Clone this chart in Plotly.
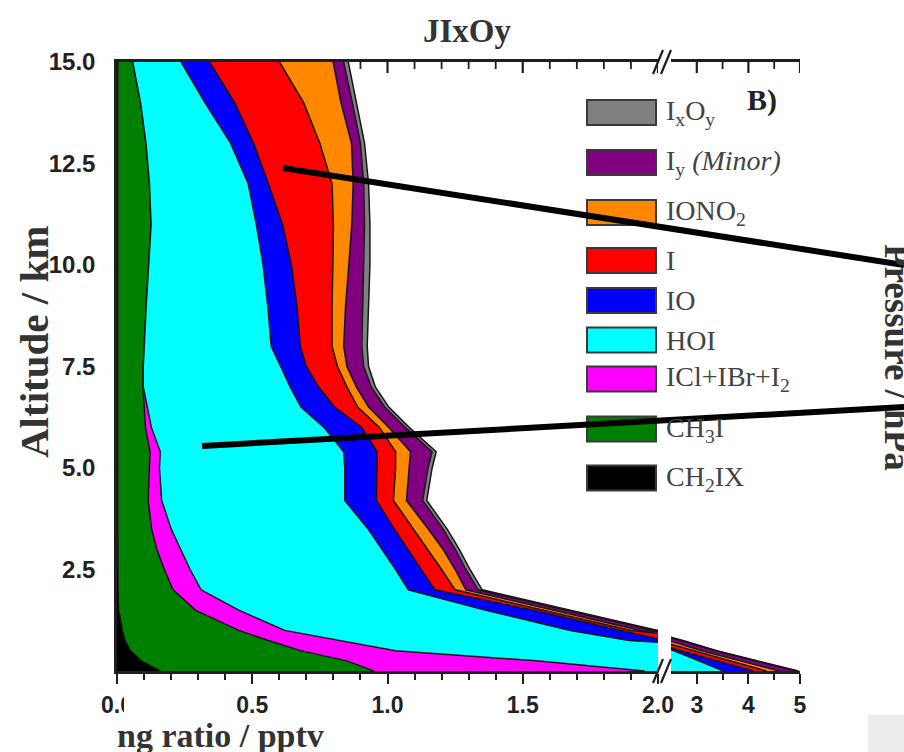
import plotly.graph_objects as go

# Altitude levels of the profile (km)
altitude_km = [0.0, 0.25, 0.5, 0.75, 1.0, 1.5, 2.0, 2.5, 3.0, 3.5, 4.2, 5.0, 5.4,
               6.0, 6.5, 7.0, 7.5, 8.0, 9.0, 10.0, 11.0, 12.0, 13.0, 14.0, 15.0]

# Mixing ratio of each iodine species (pptv), stacked from the left
ch2ix = [0.16, 0.09, 0.05, 0.03, 0.02, 0.006, 0.004, 0.003, 0.003, 0.003, 0.003, 0.003, 0.003,
         0.003, 0.003, 0.003, 0.003, 0.003, 0.003, 0.003, 0.003, 0.003, 0.003, 0.003, 0.003]
ch3i = [0.79, 0.76, 0.63, 0.53, 0.43, 0.284, 0.203, 0.172, 0.144, 0.125, 0.112, 0.117, 0.119,
        0.102, 0.097, 0.093, 0.094, 0.097, 0.105, 0.114, 0.123, 0.117, 0.104, 0.084, 0.055]
icl_ibr_i2 = [1.00, 0.70, 0.35, 0.26, 0.17, 0.16, 0.104, 0.095, 0.088, 0.072, 0.05, 0.037, 0.038,
              0.022, 0.012, 0.001, 0.0, 0.0, 0.0, 0.0, 0.0, 0.0, 0.0, 0.0, 0.0]
hoi = [1.57, 1.49, 1.53, 1.074, 1.056, 0.91, 0.766, 0.76, 0.745, 0.728, 0.677, 0.685, 0.678,
       0.638, 0.568, 0.543, 0.508, 0.47, 0.449, 0.423, 0.389, 0.365, 0.313, 0.238, 0.179]
io = [0.58, 0.35, 0.13, 0.136, 0.187, 0.178, 0.098, 0.095, 0.095, 0.097, 0.117, 0.12, 0.124,
      0.14, 0.125, 0.105, 0.095, 0.108, 0.108, 0.105, 0.097, 0.075, 0.085, 0.11, 0.105]
i_atom = [0.25, 0.26, 0.21, 0.22, 0.037, 0.042, 0.075, 0.075, 0.073, 0.068, 0.063, 0.068, 0.068,
          0.065, 0.085, 0.105, 0.115, 0.117, 0.13, 0.153, 0.188, 0.235, 0.245, 0.255, 0.259]
iono2 = [0.25, 0.20, 0.20, 0.20, 0.035, 0.03, 0.04, 0.05, 0.057, 0.057, 0.048, 0.05, 0.055,
         0.035, 0.04, 0.035, 0.035, 0.043, 0.05, 0.059, 0.068, 0.078, 0.117, 0.138, 0.198]
iy_minor = [0.32, 0.30, 0.26, 0.25, 0.05, 0.045, 0.045, 0.04, 0.045, 0.055, 0.06, 0.07, 0.08,
            0.06, 0.06, 0.055, 0.062, 0.067, 0.063, 0.056, 0.047, 0.039, 0.033, 0.042, 0.039]
ixoy = [0.05, 0.05, 0.03, 0.03, 0.015, 0.015, 0.015, 0.015, 0.015, 0.015, 0.015, 0.015, 0.015,
        0.015, 0.015, 0.015, 0.018, 0.02, 0.022, 0.022, 0.02, 0.018, 0.015, 0.015, 0.017]

species_values = [ch2ix, ch3i, icl_ibr_i2, hoi, io, i_atom, iono2, iy_minor, ixoy]
species_names = ["CH<sub>2</sub>IX", "CH<sub>3</sub>I", "ICl+IBr+I<sub>2</sub>", "HOI", "IO", "I",
                 "IONO<sub>2</sub>", "I<sub>y</sub> <i>(Minor)</i>", "I<sub>x</sub>O<sub>y</sub>"]
species_colors = ["#000000", "#008000", "#ff00ff", "#00ffff", "#0000ff", "#ff0000",
                  "#ff8800", "#800080", "#808080"]

# Broken mixing-ratio axis: low segment and high segment
low_ticks = [0.0, 0.5, 1.0, 1.5, 2.0]
high_ticks = [3, 4, 5]
high_minor = [3.5, 4.5]
alt_ticks = [2.5, 5.0, 7.5, 10.0, 12.5, 15.0]

# Pressure levels on the right axis and their altitudes (km)
pressure_hpa = [120, 200, 300, 400, 500, 600, 700, 800, 900]
pressure_alt_km = [14.65, 11.44, 8.61, 6.70, 4.99, 3.68, 2.58, 1.63, 0.76]

W, H = 904, 752
ML, MR, MT, MB = 117, 104, 62, 81
PW, PH = W - ML - MR, H - MT - MB
ALT_TOP = 15.0


def px(x):
    return (x - ML) / PW


def py(y):
    return (H - MB - y) / PH


# cumulative stack boundaries
stacks = []
running = [0.0] * len(altitude_km)
for vals in species_values:
    running = [a + b for a, b in zip(running, vals)]
    stacks.append(running)

fig = go.Figure()
for xa in ["x", "x2"]:
    for k, (edge, col) in enumerate(zip(stacks, species_colors)):
        fig.add_trace(go.Scatter(
            x=edge, y=altitude_km, xaxis=xa, yaxis="y", mode="lines",
            line=dict(color="#151515", width=1.5),
            fill="tozerox" if k == 0 else "tonextx", fillcolor=col,
            showlegend=False, hoverinfo="skip"))

axis_col = "#1e1e1e"
sans = "Liberation Sans, Arial, sans-serif"
serif = "Liberation Serif, Times New Roman, serif"
tick_font = dict(family=sans, size=23, color="#222", weight="bold")
common_x = dict(showline=True, mirror=True, linewidth=2.5, linecolor=axis_col, showgrid=False,
                zeroline=False, tickwidth=2, tickcolor=axis_col, ticklen=10)

split_lo = px(658)
split_hi = px(671)

fig.update_layout(
    width=W, height=H, margin=dict(l=ML, r=MR, t=MT, b=MB),
    paper_bgcolor="white", plot_bgcolor="white", showlegend=False,
    xaxis=dict(domain=[0, split_lo], range=[0, 2.0], anchor="y",
               tickvals=low_ticks, ticktext=[f"{v:.1f}" for v in low_ticks],
               ticks="outside", tickfont=tick_font, ticklabelstandoff=2,
               minor=dict(dtick=0.1, ticks="outside", ticklen=6, tickwidth=1.6,
                          tickcolor=axis_col), **common_x),
    xaxis2=dict(domain=[split_hi, 1], range=[2.5, 5], anchor="y",
                tickvals=high_ticks, ticktext=[str(v) for v in high_ticks],
                ticks="outside", tickfont=tick_font, ticklabelstandoff=2,
                minor=dict(tickvals=high_minor, ticks="outside", ticklen=6, tickwidth=1.6,
                           tickcolor=axis_col), **common_x),
    yaxis=dict(domain=[0, 1], range=[0, ALT_TOP], anchor="x", tickvals=alt_ticks,
               ticktext=[f"{v:.1f}" for v in alt_ticks], ticks="", showline=True,
               linewidth=2.5, linecolor=axis_col, showgrid=False, zeroline=False,
               tickfont=dict(family=sans, size=24, color="#222", weight="bold"),
               ticklabelstandoff=14),
    yaxis2=dict(overlaying="y", side="right", anchor="x2", range=[0, ALT_TOP],
                tickvals=pressure_alt_km, ticktext=[str(p) for p in pressure_hpa],
                ticks="inside", ticklen=14, tickwidth=2, tickcolor=axis_col,
                showline=True, linewidth=2.5, linecolor=axis_col, showgrid=False,
                zeroline=False, tickfont=dict(family=sans, size=24, color="#222", weight="bold"),
                ticklabelstandoff=10),
)

shapes = []
annotations = []

# inward ticks along the top frame, on each segment's own scale, beneath the filled areas
top_ticks = [("x", i / 10, i % 5 == 0) for i in range(0, 21)]
top_ticks += [("x2", v, True) for v in high_ticks] + [("x2", v, False) for v in high_minor]
for xr, v, major in top_ticks:
    tl = (11 if major else 7) / PH * ALT_TOP
    shapes.append(dict(type="line", xref=xr, yref="y", x0=v, x1=v, y0=ALT_TOP, y1=ALT_TOP - tl,
                       layer="below", line=dict(color=axis_col, width=2.2 if major else 1.8)))

# axis break marks
for yb in (62, 671):
    for dx in (0, 8):
        shapes.append(dict(type="line", xref="paper", yref="paper",
                           x0=px(653 + dx), y0=py(yb + 12), x1=px(663 + dx), y1=py(yb - 12),
                           line=dict(color=axis_col, width=2.2)))

# legend drawn as boxes with labels, top entry first
row_y = [112.5, 162.5, 212.5, 260.5, 300.5, 340, 379, 429, 478]
for name, col, yc in zip(species_names[::-1], species_colors[::-1], row_y):
    shapes.append(dict(type="rect", xref="paper", yref="paper",
                       x0=px(587), x1=px(656), y0=py(yc + 12.5), y1=py(yc - 12.5),
                       fillcolor=col, line=dict(color="#3a3a3a", width=2)))
    annotations.append(dict(text=name, xref="paper", yref="paper", x=px(664), y=py(yc),
                            xanchor="left", yanchor="middle", showarrow=False,
                            font=dict(family=serif, size=28, color="#444")))

annotations += [
    dict(text="JIxOy", xref="paper", yref="paper", x=px(467), y=py(31), showarrow=False,
         xanchor="center", yanchor="middle",
         font=dict(family=serif, size=33, color="#333", weight="bold")),
    dict(text="B)", xref="paper", yref="paper", x=px(762), y=py(100), showarrow=False,
         xanchor="center", yanchor="middle",
         font=dict(family=serif, size=30, color="#222", weight="bold")),
    dict(text="Altitude / km", xref="paper", yref="paper", x=px(34), y=py(342),
         textangle=-90, showarrow=False, xanchor="center", yanchor="middle",
         font=dict(family=serif, size=41, color="#333", weight="bold")),
    dict(text="Pressure / hPa", xref="paper", yref="paper", x=px(898), y=py(357),
         textangle=90, showarrow=False, xanchor="center", yanchor="middle",
         font=dict(family=serif, size=37, color="#333", weight="bold")),
    dict(text="<span style='color:rgba(255,255,255,0)'>Mixi</span>ng ratio / pptv",
         xref="paper", yref="paper", x=px(47), y=py(735),
         xanchor="left", yanchor="middle", showarrow=False,
         font=dict(family=serif, size=34, color="#333", weight="bold")),
]

# pointer lines crossing the panel, and masked corners
shapes += [
    dict(type="line", xref="paper", yref="paper", x0=px(283), y0=py(168), x1=px(904), y1=py(265),
         line=dict(color="black", width=6)),
    dict(type="line", xref="paper", yref="paper", x0=px(202), y0=py(446), x1=px(904), y1=py(407),
         line=dict(color="black", width=6)),
    dict(type="rect", xref="paper", yref="paper", x0=px(124), x1=px(145), y0=py(714), y1=py(686),
         fillcolor="white", line=dict(width=0)),
    dict(type="rect", xref="paper", yref="paper", x0=px(868), x1=px(904), y0=py(752), y1=py(715),
         fillcolor="#ececec", line=dict(width=0)),
]

fig.update_layout(shapes=shapes, annotations=annotations)
fig.write_html("out.html")
